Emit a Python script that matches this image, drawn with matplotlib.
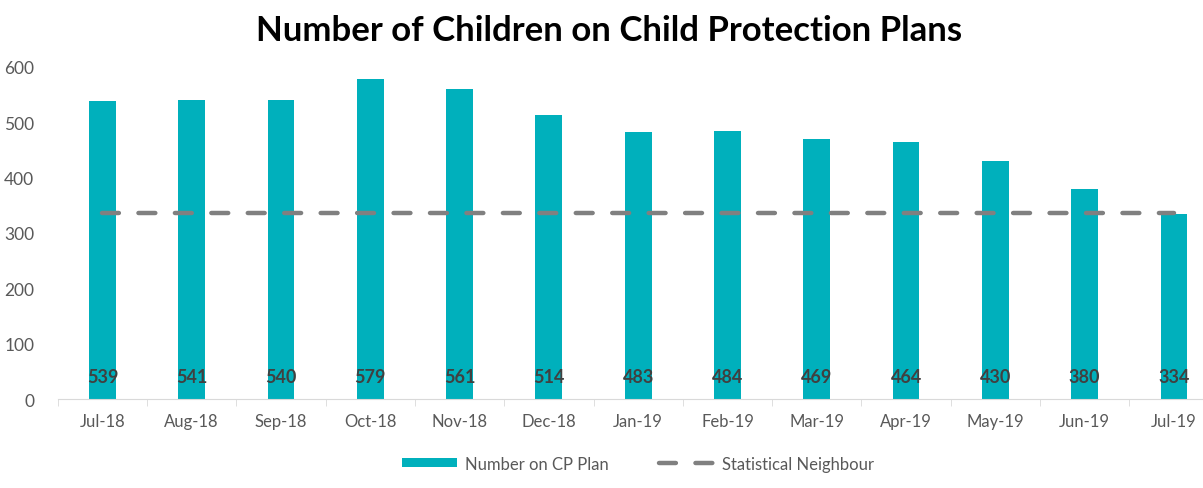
import numpy as np
import matplotlib.pyplot as plt

months = ['Jul-18', 'Aug-18', 'Sep-18', 'Oct-18', 'Nov-18', 'Dec-18', 'Jan-19',
          'Feb-19', 'Mar-19', 'Apr-19', 'May-19', 'Jun-19', 'Jul-19']
cp_plan = [539, 541, 540, 579, 561, 514, 483, 484, 469, 464, 430, 380, 334]
stat_neighbour = [337] * len(months)

plt.rcParams['font.family'] = ['Lato', 'DejaVu Sans']

fig = plt.figure(figsize=(12.03, 4.89), dpi=100)
ax = fig.add_axes([0.048, 0.182, 0.965, 0.679])

x = np.arange(len(months))
ax.bar(x, cp_plan, width=0.3, color='#00B0BC', label='Number on CP Plan', zorder=2)
ax.plot(x, stat_neighbour, '--', color='#808080', linewidth=3.2, dashes=(3.8, 4.4),
        dash_capstyle='round', label='Statistical Neighbour', zorder=3)

for i, v in enumerate(cp_plan):
    ax.text(i, 40, str(v), ha='center', va='center', fontsize=13,
            fontweight='bold', color='#404040', zorder=4)

ax.set_xlim(-0.5, len(months) - 0.5)
ax.set_ylim(0, 600)
ax.set_yticks(range(0, 601, 100))
ax.set_xticks(x)
ax.set_xticklabels(months)
ax.set_xticks(np.arange(-0.5, len(months), 1), minor=True)
ax.tick_params(axis='x', which='major', length=0, pad=10, labelsize=12, labelcolor='#595959')
ax.tick_params(axis='x', which='minor', length=5, color='#D9D9D9')
ax.tick_params(axis='y', length=0, pad=17, labelsize=12.5, labelcolor='#595959')

for s in ['left', 'right', 'top']:
    ax.spines[s].set_visible(False)
ax.spines['bottom'].set_color('#D9D9D9')

fig.suptitle('Number of Children on Child Protection Plans', fontsize=25,
             fontweight='bold', color='black', x=0.506, y=0.97)

handles, labels = ax.get_legend_handles_labels()
ax.legend(handles[::-1], labels[::-1], loc='upper center', bbox_to_anchor=(0.5, -0.125),
          ncol=2, frameon=False, fontsize=12, labelcolor='#595959', handlelength=3.3,
          handleheight=0.5, columnspacing=3.0, handletextpad=0.5)

fig.savefig('out.png', dpi=100)
